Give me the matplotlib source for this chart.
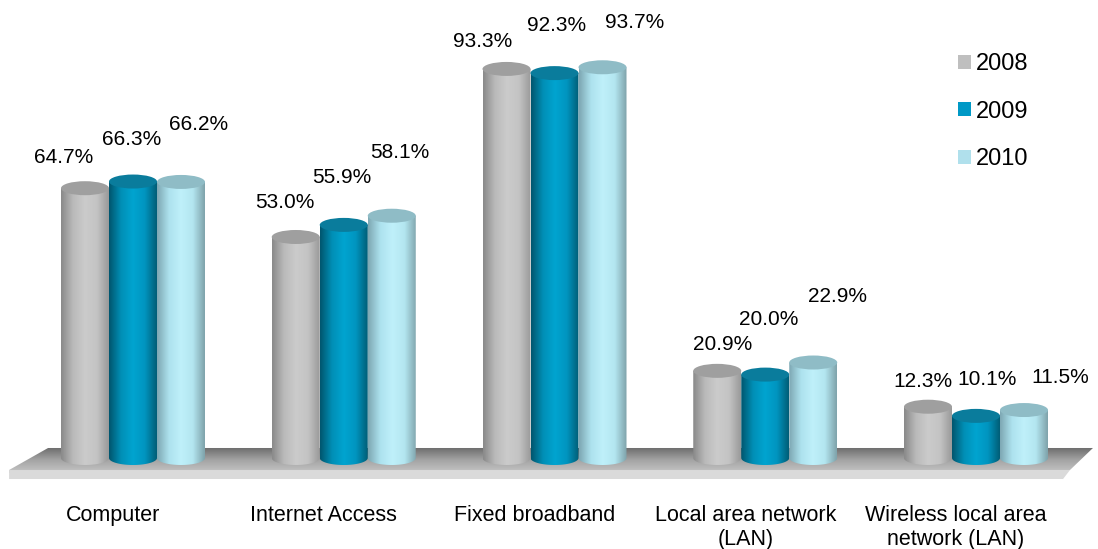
import matplotlib.pyplot as plt
import numpy as np
from matplotlib.colors import LinearSegmentedColormap
from matplotlib.patches import Ellipse, Polygon, PathPatch, Patch
from matplotlib.path import Path

plt.rcParams['font.family'] = ['Liberation Sans', 'DejaVu Sans']

categories = ['Computer', 'Internet Access', 'Fixed broadband',
              'Local area network\n(LAN)', 'Wireless local area\nnetwork (LAN)']
years = ['2008', '2009', '2010']
v2008 = [64.7, 53.0, 93.3, 20.9, 12.3]
v2009 = [66.3, 55.9, 92.3, 20.0, 10.1]
v2010 = [66.2, 58.1, 93.7, 22.9, 11.5]
series = [v2008, v2009, v2010]

# value label nudges in pixels (sideways, and up from the cylinder top)
lab_dx = [[-21, -11, -24, 5, -5], [-1, -2, 2, 3, 11], [18, 8, 32, 24, 36]]
lab_dy = [[31, 34, 27, 26, 25], [42, 47, 48, 55, 36], [57, 63, 45, 66, 33]]

# pixels per data unit
SX, SY = 210.75, 4.17
bar_w = 48 / SX
ell_h = 14 / SY

body_cmaps = [
    LinearSegmentedColormap.from_list('g', ['#8a8a8a', '#bababa', '#cbcbcb', '#c4c4c4', '#9a9a9a']),
    LinearSegmentedColormap.from_list('b', ['#00566e', '#008fb6', '#00a4d0', '#0095c0', '#005e77']),
    LinearSegmentedColormap.from_list('c', ['#7ea8b3', '#ade2ee', '#bff0fa', '#b3e6f0', '#7fa3ab']),
]
top_colors = ['#9f9f9f', '#0a7c9c', '#8fbcc6']
legend_colors = ['#bfbfbf', '#0099c6', '#b0e0ec']

fig = plt.figure(figsize=(10.98, 5.49), dpi=100)
ax = fig.add_axes([0, 0, 1, 1])
ax.axis('off')

# floor slab
grad = np.linspace(0, 1, 200).reshape(-1, 1)
floor_cmap = LinearSegmentedColormap.from_list('f', ['#c6c6c6', '#a4a4a4', '#6a6a6a'])
top_face = Polygon([(-0.403, 2.40), (4.555, 2.40), (4.446, -2.88), (-0.588, -3.60), (-0.588, -2.88)],
                   closed=True, transform=ax.transData)
im = ax.imshow(grad, cmap=floor_cmap, extent=[-0.6, 4.6, -3.6, 2.4], aspect='auto',
               origin='lower', interpolation='bicubic', zorder=1)
im.set_clip_path(top_face)
front = Polygon([(-0.588, -2.88), (4.446, -2.88), (4.413, -5.04), (-0.588, -5.04)],
                closed=True, facecolor='#dadada', edgecolor='none', zorder=1)
ax.add_patch(front)


def cylinder(xc, h, cmap, top, z):
    t = np.linspace(np.pi, 2 * np.pi, 60)
    arc = np.column_stack([xc + bar_w / 2 * np.cos(t), ell_h / 2 * np.sin(t)])
    pts = np.vstack([[xc - bar_w / 2, h], arc, [xc + bar_w / 2, h], [xc - bar_w / 2, h]])
    clip = PathPatch(Path(pts, closed=True), transform=ax.transData)
    body = ax.imshow(np.linspace(0, 1, 120).reshape(1, -1), cmap=cmap,
                     extent=[xc - bar_w / 2, xc + bar_w / 2, -ell_h / 2, h],
                     aspect='auto', interpolation='bicubic', zorder=z)
    body.set_clip_path(clip)
    ax.add_patch(Ellipse((xc, h), bar_w, ell_h, facecolor=top, edgecolor='none', zorder=z + 0.1))


for g in range(len(categories)):
    for s, vals in enumerate(series):
        xc = g + (s - 1) * bar_w
        cylinder(xc, vals[g], body_cmaps[s], top_colors[s], 2 + s)
        ax.text(xc + lab_dx[s][g] / SX, vals[g] + lab_dy[s][g] / SY, f'{vals[g]:.1f}%',
                ha='center', va='center', fontsize=15, color='black', zorder=10)
    ax.text(g - 0.095, -11.3, categories[g], ha='center', va='top', fontsize=15.5,
            linespacing=1.15, color='black')

handles = [Patch(facecolor=c, edgecolor='none', label=y) for c, y in zip(legend_colors, years)]
ax.legend(handles=handles, loc='upper left', bbox_to_anchor=(958 / 1098, 1 - 53 / 549),
          frameon=False, fontsize=17, handlelength=0.55, handleheight=0.55,
          handletextpad=0.2, labelspacing=1.08, borderpad=0, borderaxespad=0)

ax.set_xlim(-133 / SX, 965 / SX)
ax.set_ylim(-91 / SY, 458 / SY)

fig.savefig('out.png', dpi=100)
